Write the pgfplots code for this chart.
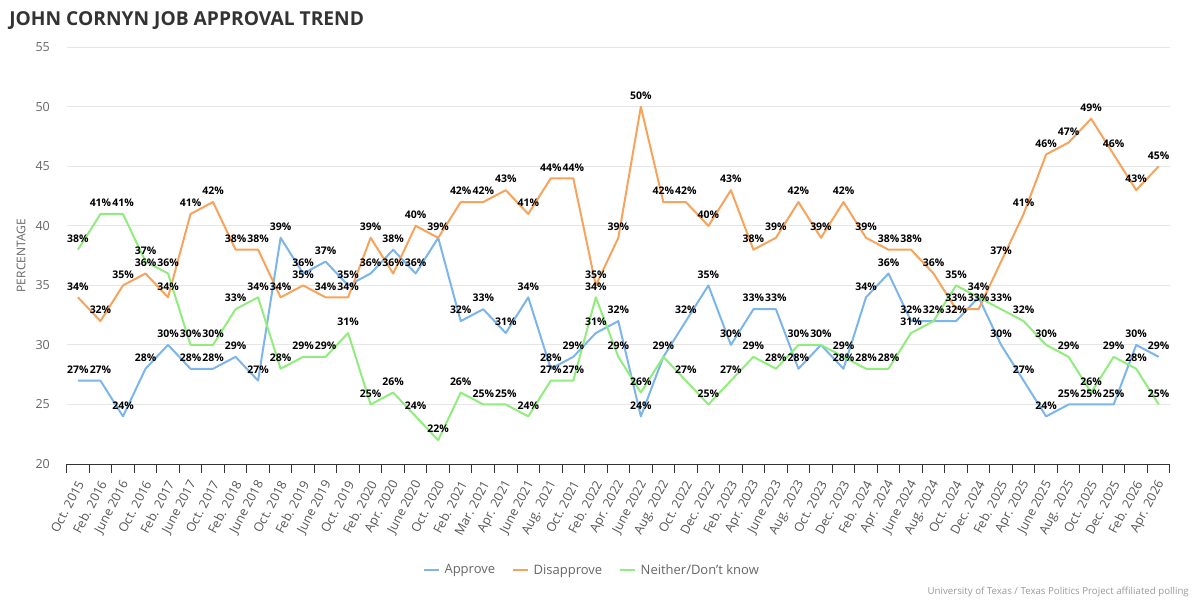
\documentclass[border=0pt]{standalone}
\usepackage{pgfplots}
\pgfplotsset{compat=1.18}
\usepackage{pgfplotstable}
\usepackage{fontspec}
\setmainfont{Open Sans}
\definecolor{cA}{HTML}{7CB5EC}
\definecolor{cD}{HTML}{F7A35C}
\definecolor{cN}{HTML}{90ED7D}
\definecolor{ctitle}{HTML}{333333}
\definecolor{clab}{HTML}{666666}
\definecolor{cxlab}{HTML}{555555}
\definecolor{cgrid}{HTML}{E6E6E6}
\definecolor{caxis}{HTML}{333333}
\definecolor{ccred}{HTML}{999999}
% A/D/N: series values; LD/LN: labels shown (nan = label hidden where two series coincide)
\pgfplotstableread{
i A D N LD LN
0 27 34 38 34 38
1 27 32 41 32 41
2 24 35 41 35 41
3 28 36 37 36 37
4 30 34 36 34 36
5 28 41 30 41 30
6 28 42 30 42 30
7 29 38 33 38 33
8 27 38 34 38 34
9 39 34 28 34 28
10 36 35 29 35 29
11 37 34 29 34 29
12 35 34 31 34 31
13 36 39 25 39 25
14 38 36 26 36 26
15 36 40 24 40 24
16 39 39 22 nan 22
17 32 42 26 42 26
18 33 42 25 42 25
19 31 43 25 43 25
20 34 41 24 41 24
21 28 44 27 44 27
22 29 44 27 44 27
23 31 35 34 35 34
24 32 39 29 39 29
25 24 50 26 50 26
26 29 42 29 42 nan
27 32 42 27 42 27
28 35 40 25 40 25
29 30 43 27 43 27
30 33 38 29 38 29
31 33 39 28 39 28
32 28 42 30 42 30
33 30 39 30 39 nan
34 28 42 29 42 29
35 34 39 28 39 28
36 36 38 28 38 28
37 32 38 31 38 31
38 32 36 32 36 nan
39 32 33 35 33 35
40 34 33 34 33 nan
41 30 37 33 37 33
42 27 41 32 41 32
43 24 46 30 46 30
44 25 47 29 47 29
45 25 49 26 49 26
46 25 46 29 46 29
47 30 43 28 43 28
48 29 45 25 45 25
}\data
\begin{document}
\begin{tikzpicture}
\path[use as bounding box] (-66.7bp,-136bp) rectangle (1133.3bp,464bp);
\begin{axis}[
  at={(0,0)}, anchor=south west,
  scale only axis,
  width=1103.3bp, height=416.7bp,
  xmin=-0.5, xmax=48.5, ymin=20, ymax=55,
  axis x line=bottom, axis y line=left,
  x axis line style={-, draw=caxis, line width=1bp},
  y axis line style={draw=none},
  /pgf/number format/assume math mode=true,
  xtick={0,...,48},
  xticklabels={Oct. 2015, Feb. 2016, June 2016, Oct. 2016, Feb. 2017, June 2017, Oct. 2017, Feb. 2018, June 2018, Oct. 2018, Feb. 2019, June 2019, Oct. 2019, Feb. 2020, Apr. 2020, June 2020, Oct. 2020, Feb. 2021, Mar. 2021, Apr. 2021, June 2021, Aug. 2021, Oct. 2021, Feb. 2022, Apr. 2022, June 2022, Aug. 2022, Oct. 2022, Dec. 2022, Feb. 2023, Apr. 2023, June 2023, Aug. 2023, Oct. 2023, Dec. 2023, Feb. 2024, Apr. 2024, June 2024, Aug. 2024, Oct. 2024, Dec. 2024, Feb. 2025, Apr. 2025, June 2025, Aug. 2025, Oct. 2025, Dec. 2025, Feb. 2026, Apr. 2026},
  minor xtick={-0.5,0.5,...,48.5},
  major x tick style={draw=none},
  minor x tick style={draw=caxis, line width=1bp},
  tick align=outside,
  minor tick length=9bp,
  major tick length=0bp,
  xticklabel style={xshift=2.7bp, yshift=-17.7bp, rotate=62, anchor=east, inner sep=0pt, font=\fontsize{12.5bp}{14bp}\selectfont, text=cxlab},
  ytick={20,25,...,55},
  major y tick style={draw=none},
  yticklabel style={anchor=east, inner sep=0pt, xshift=-16.7bp, font=\fontsize{12.5bp}{14bp}\selectfont, text=clab},
  ymajorgrids,
  y grid style={cgrid, line width=1bp},
  legend columns=3,
  legend style={draw=none, fill=none, at={(axis description cs:0.4761,-0.2544)}, anchor=center,
    font=\fontsize{13bp}{15bp}\selectfont, text=clab,
    /tikz/every even column/.append style={column sep=15bp}},
  legend image code/.code={\draw[#1, line width=2bp] (0bp,0bp) -- (15bp,0bp); \path (17.5bp,0bp);},
  every axis plot/.append style={line width=2bp, line join=round},
  label node/.style={draw=none, mark=none, forget plot, point meta=y,
    nodes near coords={\pgfmathprintnumber{\pgfplotspointmeta}\%},
    every node near coord/.append style={anchor=center, yshift=11bp, inner sep=0pt, text=black,
      font=\bfseries\fontsize{10.5bp}{12bp}\selectfont}},
]
\addplot[cA, mark=none] table[x=i, y=A] {\data};
\addlegendentry{Approve}
\addplot[cD, mark=none] table[x=i, y=D] {\data};
\addlegendentry{Disapprove}
\addplot[cN, mark=none] table[x=i, y=N] {\data};
\addlegendentry{Neither/Don't know}
\addplot[label node] table[x=i, y=A] {\data};
\addplot[label node] table[x=i, y=LD] {\data};
\addplot[label node] table[x=i, y=LN] {\data};
\end{axis}
\node[anchor=base west, font=\bfseries\fontsize{19.2bp}{23bp}\selectfont, text=ctitle, inner sep=0pt] at (-57.6bp,438bp) {JOHN CORNYN JOB APPROVAL TREND};
\node[rotate=90, font=\fontsize{12bp}{14bp}\selectfont, text=clab, inner sep=0pt] at (-45.7bp,208.3bp) {PERCENTAGE};
\node[anchor=east, font=\fontsize{9.7bp}{12bp}\selectfont, text=ccred, inner sep=0pt] at (1122.3bp,-127.7bp) {University of Texas / Texas Politics Project affiliated polling};
\end{tikzpicture}
\end{document}
